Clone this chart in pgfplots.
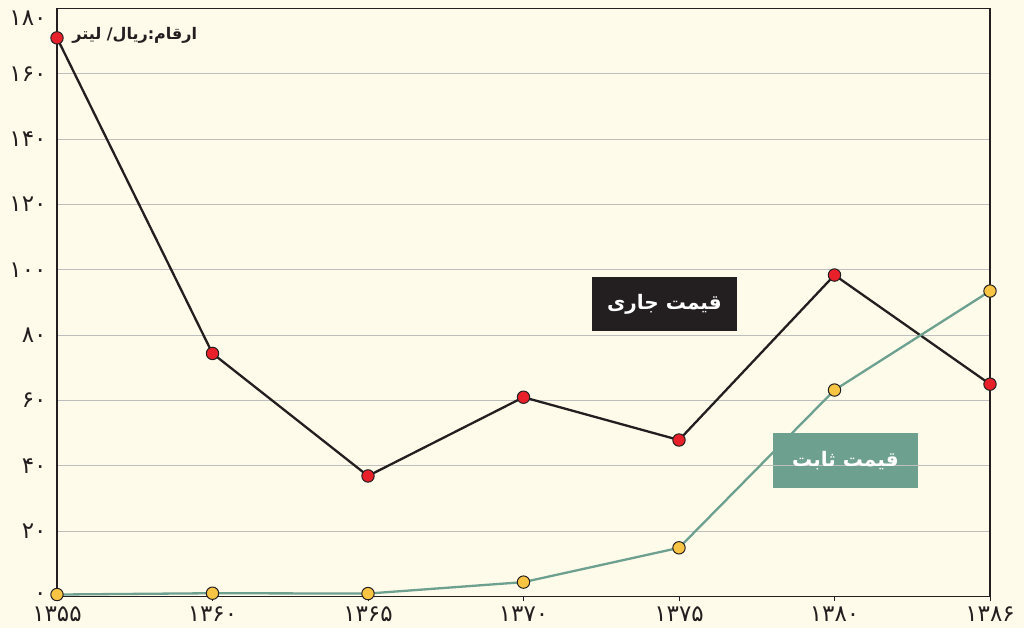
\documentclass[border=0pt]{standalone}
\usepackage{pgfplots}
\pgfplotsset{compat=1.18}
\usepackage{fontspec}
\TeXXeTstate=1
\newfontfamily\arabicfont[Script=Arabic]{DejaVu Sans}
\definecolor{bg}{RGB}{254,251,234}
\definecolor{axcol}{RGB}{35,31,32}
\definecolor{tealc}{RGB}{110,160,143}
\definecolor{mred}{RGB}{232,32,42}
\definecolor{myel}{RGB}{248,196,68}
\definecolor{gridc}{RGB}{190,190,190}
\pagecolor{bg}
\begin{document}
\begin{tikzpicture}
\path[use as bounding box] (-57pt,-31.5pt) rectangle (967pt,596.5pt);
\begin{axis}[
  anchor=south west, at={(0pt,0pt)},
  width=933pt, height=588pt, scale only axis,
  xmin=0, xmax=6, ymin=0, ymax=180,
  axis line style={axcol, line width=1.5pt},
  xtick pos=bottom, ytick pos=left,
  xtick={0,1,2,3,4,5,6},
  xticklabels={۱۳۵۵,۱۳۶۰,۱۳۶۵,۱۳۷۰,۱۳۷۵,۱۳۸۰,۱۳۸۶},
  ytick={0,20,40,60,80,100,120,140,160},
  yticklabels={۰,۲۰,۴۰,۶۰,۸۰,۱۰۰,۱۲۰,۱۴۰,۱۶۰},
  extra y ticks={180}, extra y tick labels={۱۸۰},
  extra y tick style={yticklabel style={yshift=-10pt}, grid=none},
  ymajorgrids, grid style={gridc, line width=1pt},
  tick align=outside, major tick length=5pt,
  xtick style={draw=axcol, line width=1pt},
  ytick style={draw=none},
  tick label style={font=\arabicfont\fontsize{23}{26}\selectfont, text=axcol},
  xticklabel style={yshift=-2pt},
  yticklabel style={xshift=-2pt},
]
\node[fill=axcol, text=white, minimum width=145pt, minimum height=54pt, inner sep=0pt,
  font=\arabicfont\bfseries\fontsize{20}{24}\selectfont] at (rel axis cs:0.651,0.497) {\beginR قیمت جاری\endR};
\node[fill=tealc, minimum width=145pt, minimum height=55pt, inner sep=0pt] at (rel axis cs:0.845,0.231) {};
\draw[gridc, line width=1pt] (axis cs:4.605,40) -- (axis cs:5.537,40);
\node[text=white, inner sep=0pt,
  font=\arabicfont\bfseries\fontsize{20}{24}\selectfont] at (rel axis cs:0.845,0.231) {\beginR قیمت ثابت\endR};
\node[anchor=east, text=axcol, font=\arabicfont\bfseries\fontsize{16}{20}\selectfont] at (rel axis cs:0.154,0.955) {\beginR ارقام:ریال/ لیتر\endR};
\addplot[axcol, line width=2.3pt, mark=*, mark size=6.2pt,
  mark options={fill=mred, draw=axcol, line width=1pt}]
  coordinates {(0,171) (1,74.4) (2,36.9) (3,61.0) (4,47.9) (5,98.4) (6,65.0)};
\addplot[tealc, line width=2.3pt, mark=*, mark size=6.2pt,
  mark options={fill=myel, draw=axcol, line width=1pt}]
  coordinates {(0,0.6) (1,1.0) (2,0.9) (3,4.4) (4,14.9) (5,63.2) (6,93.5)};
\end{axis}
\end{tikzpicture}
\end{document}
